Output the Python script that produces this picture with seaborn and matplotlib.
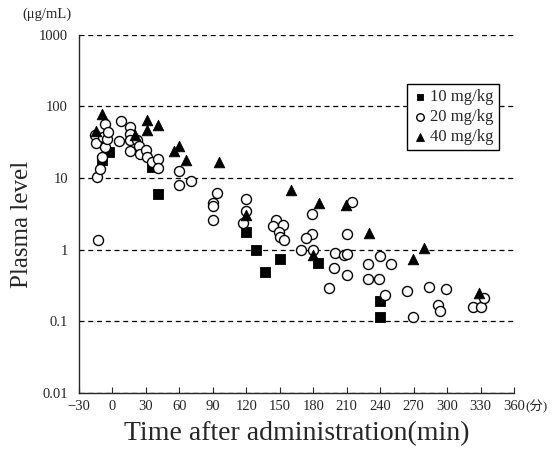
import matplotlib
matplotlib.use("Agg")
import matplotlib.pyplot as plt
import matplotlib.transforms as mtransforms
import seaborn as sns
import pandas as pd

# 10 mg/kg (filled squares)
t10 = [-9, -3, 35, 41, 120, 129, 136.5, 150.5, 184, 240, 240]
v10 = [18, 23, 14, 5.9, 1.77, 1.0, 0.49, 0.73, 0.64, 0.19, 0.113]

# 20 mg/kg (open circles)
t20 = [-15.7, -14.4, -14.1, -11.2, -9, -8.2, -6.7, -6.7, -4.6, -3.7, -13,
       5.5, 7.5, 15.7, 16, 15.5, 16, 22.3, 24.1, 24.5, 30.1, 31, 35.5, 41, 41,
       60, 60, 70, 94, 90, 90, 90, 119.7, 119.7, 117.3,
       146.3, 143.7, 152.6, 149.6, 150.2, 153.8,
       179.2, 179.2, 173.2, 168.8, 179.5, 215, 210, 199.5, 207.6, 210.5,
       198.6, 210, 194, 229.4, 239.8, 249.4, 229.4, 239.2, 244.3,
       264.3, 284, 299, 292.1, 293.6, 269.2, 323.5, 330, 333]
v20 = [40, 31, 10.2, 13.2, 19.5, 37, 57, 27, 35, 44, 1.35,
       33, 63, 52, 41, 33.5, 24, 34, 27.5, 21.5, 24.3, 19.8, 16.5, 18.6, 13.9,
       12.4, 7.9, 9.0, 6.2, 4.5, 4.0, 2.57, 5.05, 3.47, 2.38,
       2.57, 2.12, 2.19, 1.77, 1.48, 1.38,
       3.17, 1.66, 1.43, 1.0, 0.98, 4.54, 1.66, 0.89, 0.84, 0.86,
       0.55, 0.44, 0.287, 0.63, 0.81, 0.62, 0.395, 0.39, 0.235,
       0.263, 0.305, 0.284, 0.168, 0.141, 0.113, 0.158, 0.16, 0.21]

# 40 mg/kg (filled triangles)
t40 = [-14.4, -9, 20.5, 31, 31, 41, 55, 60, 65.5, 95.5, 120, 160, 185,
       209.5, 179.5, 230, 269, 279.3, 329]
v40 = [45, 77, 40, 65, 46, 54, 24, 28, 17.8, 16.5, 3.0, 6.7, 4.4,
       4.2, 0.85, 1.7, 0.73, 1.05, 0.25]

xticks = [-30, 0, 30, 60, 90, 120, 150, 180, 210, 240, 270, 300, 330, 360]
yticks = [0.01, 0.1, 1, 10, 100, 1000]
ytick_labels = ["0.01", "0.1", "1", "10", "100", "1000"]

sns.set_style("ticks")
plt.rcParams['font.family'] = ['Liberation Serif', 'Noto Sans CJK JP']

d10 = pd.DataFrame({'t': t10, 'v': v10})
d20 = pd.DataFrame({'t': t20, 'v': v20})
d40 = pd.DataFrame({'t': t40, 'v': v40})

fig = plt.figure(figsize=(5.6, 4.55), dpi=100)
ax = fig.add_axes([79 / 560, 1 - 393 / 455, 435 / 560, 358.5 / 455])

# dashed decade lines
for yv in yticks:
    ax.axhline(yv, color='black', linestyle=(0, (4, 3)), linewidth=0.9, zorder=1)

sns.scatterplot(data=d10, x='t', y='v', marker='s', s=45, color='black',
                edgecolor='black', linewidth=0.6, label='10 mg/kg', ax=ax, zorder=3)
sns.scatterplot(data=d20, x='t', y='v', marker='o', s=52, color='white',
                edgecolor='black', linewidth=1.0, label='20 mg/kg', ax=ax, zorder=3)
sns.scatterplot(data=d40, x='t', y='v', marker='^', s=58, color='black',
                edgecolor='black', linewidth=0.6, label='40 mg/kg', ax=ax, zorder=4)

ax.set_yscale('log')
ax.set_xlim(-30, 360)
ax.set_ylim(0.01, 1000)
ax.set_yticks(yticks)
ax.set_yticklabels(ytick_labels)
ax.minorticks_off()
ax.set_xticks(xticks)
ax.set_xticklabels([f"\u2212{abs(x)}" if x < 0 else str(x) for x in xticks])
ax.tick_params(axis='x', direction='in', length=4, width=0.8, labelsize=10.5, pad=5)
ax.tick_params(axis='y', length=0, labelsize=10.5, pad=8)

sns.despine(ax=ax)
ax.spines['left'].set_linewidth(1.0)
ax.spines['bottom'].set_linewidth(1.0)

ax.set_xlabel('Time after administration(min)', fontsize=20, labelpad=6)
ax.set_ylabel('Plasma level', fontsize=18)
ax.yaxis.set_label_coords(-0.105, 0.47)

# unit of x axis, right after the last tick label
unit_tr = mtransforms.offset_copy(ax.transAxes, fig=fig, x=8, y=-5, units='points')
ax.text(1.0, 0.0, '(\u5206)', transform=unit_tr, fontsize=9.5, ha='left', va='top')
fig.text(22 / 560, 1 - 14 / 455, '(\u03bcg/mL)', fontsize=10.5, ha='left', va='center')

leg = ax.legend(loc='upper right', bbox_to_anchor=(0.9655, 0.862), fontsize=12,
                frameon=True, fancybox=False, framealpha=1, edgecolor='black',
                handletextpad=0.1, borderpad=0.3, labelspacing=0.25,
                handlelength=1.0, markerscale=0.75, borderaxespad=0)
leg.get_frame().set_linewidth(1.0)

fig.savefig('out.png', dpi=100)
